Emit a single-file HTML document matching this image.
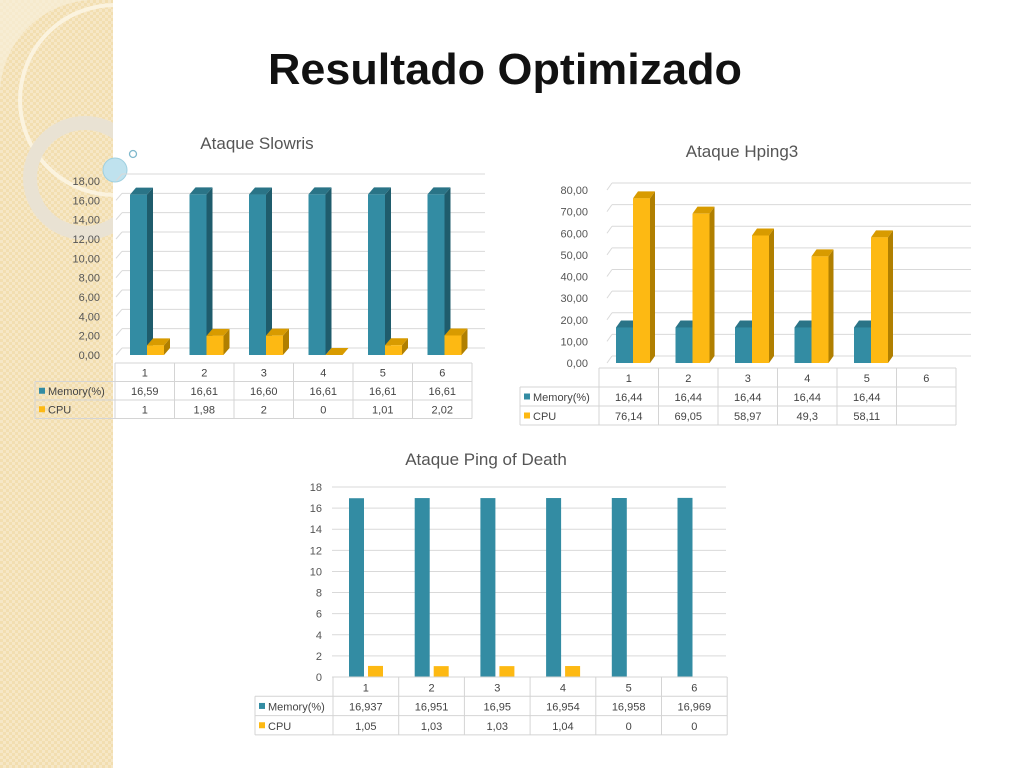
<!DOCTYPE html>
<html><head><meta charset="utf-8"><style>
body{margin:0;width:1024px;height:768px;overflow:hidden;background:#fff;font-family:"Liberation Sans",sans-serif}
svg{position:absolute;left:0;top:0}
</style></head><body>
<svg id="s" width="1024" height="768">
<defs><pattern id="pt" width="6" height="6" patternUnits="userSpaceOnUse"><rect width="6" height="6" fill="#f2deb0"/><rect width="3" height="3" fill="#f6e7c6"/><rect x="3" y="3" width="3" height="3" fill="#f6e7c6"/></pattern></defs>
<rect x="0" y="0" width="113" height="768" fill="url(#pt)"/>
<path d="M0 90 A95 95 0 0 1 90 0 L0 0Z" fill="#f8efda" opacity="0.7"/>
<circle cx="115" cy="100" r="95" fill="none" stroke="#fbf3df" stroke-width="4"/>
<circle cx="85" cy="178" r="55" fill="none" stroke="#e9e2d3" stroke-width="14"/>
<rect x="113" y="0" width="911" height="768" fill="#fff"/>
<circle cx="115" cy="170" r="12" fill="#bfe2ee" stroke="#9fd0e0"/>
<circle cx="133" cy="154" r="3.5" fill="none" stroke="#7fb8cc" stroke-width="1.3"/>
<text x="505" y="84" text-anchor="middle" font-size="44" font-weight="bold" fill="#111" textLength="474" lengthAdjust="spacingAndGlyphs">Resultado Optimizado</text>
<g id="g"></g>
</svg>
<script>
const NS='http://www.w3.org/2000/svg';
const g=document.getElementById('g');
function el(t,a,txt,p){const e=document.createElementNS(NS,t);for(const k in a)e.setAttribute(k,a[k]);if(txt!=null)e.textContent=txt;(p||g).appendChild(e);return e;}
const TEAL='#338ca3',TEALD='#1f5c6c',TEALT='#2a7487',GOLD='#fdb913',GOLDD='#b07f00',GOLDT='#d89b00';

// Chart 1 data
const c1Cats=['1','2','3','4','5','6'];
const c1Mem=[16.59,16.61,16.60,16.61,16.61,16.61];
const c1Cpu=[1,1.98,2,0,1.01,2.02];
const c1MemLbl=['16,59','16,61','16,60','16,61','16,61','16,61'];
const c1CpuLbl=['1','1,98','2','0','1,01','2,02'];
const c1Ticks=[0,2,4,6,8,10,12,14,16,18];
// Chart 2 data
const c2Cats=['1','2','3','4','5','6'];
const c2Mem=[16.44,16.44,16.44,16.44,16.44,null];
const c2Cpu=[76.14,69.05,58.97,49.3,58.11,null];
const c2MemLbl=['16,44','16,44','16,44','16,44','16,44',''];
const c2CpuLbl=['76,14','69,05','58,97','49,3','58,11',''];
const c2Ticks=[0,10,20,30,40,50,60,70,80];
// Chart 3 data
const c3Cats=['1','2','3','4','5','6'];
const c3Mem=[16.937,16.951,16.95,16.954,16.958,16.969];
const c3Cpu=[1.05,1.03,1.03,1.04,0,0];
const c3MemLbl=['16,937','16,951','16,95','16,954','16,958','16,969'];
const c3CpuLbl=['1,05','1,03','1,03','1,04','0','0'];
const c3Ticks=[0,2,4,6,8,10,12,14,16,18];

function fmt(v,dec){return dec?v.toFixed(2).replace('.',','):String(v);}

function chart(o){
  const grp=el('g',{});
  
  
  const t=el('text',{x:o.tx,y:o.ty,'text-anchor':'middle','font-size':17,fill:'#555'},o.title,grp);
  
  
  const max=o.ticks[o.ticks.length-1];
  const yB=v=>o.y0-(v/max)*(o.y0-o.yTop);
  const yF=v=>yB(v)+o.dy;
  o.ticks.forEach(v=>{
    const y=yB(v);
    const l=el('line',{x1:o.gx0,x2:o.gx1,y1:y,y2:y,stroke:'#d9d9d9','stroke-width':1},null,grp);
    
    
    if(o.dy) el('line',{x1:o.gx0-o.dx,x2:o.gx0,y1:y+o.dy,y2:y,stroke:'#d9d9d9'},null,grp);
    const tl=el('text',{x:o.lx,y:y+o.dy+4,'text-anchor':'end','font-size':11,fill:'#555'},fmt(v,o.dec),grp);
    
    
  });
  const bar=(x,v,c,cd,ct,nm)=>{
    if(v==null) return;
    const yt=yF(v),yb=yF(0),w=o.bw;
    if(o.dx){
      el('polygon',{points:`${x+w},${yt} ${x+w+o.dx},${yt-o.dy} ${x+w+o.dx},${yb-o.dy} ${x+w},${yb}`,fill:cd},null,grp);
      el('polygon',{points:`${x},${yt} ${x+o.dx},${yt-o.dy} ${x+w+o.dx},${yt-o.dy} ${x+w},${yt}`,fill:ct},null,grp);
    }
    const r=el('rect',{x:x,y:yt,width:w,height:Math.max(0,yb-yt),fill:c},null,grp);
    
    
  };
  o.cats.forEach((c,i)=>{
    const cx=o.tx0+o.cw*i+o.boff;
    bar(cx,o.mem[i],TEAL,TEALD,TEALT,'bar-memory-'+c);
    bar(cx+o.bw+o.gap,o.cpu[i],GOLD,GOLDD,GOLDT,'bar-cpu-'+c);
  });
  const r0=o.ty0,rh=o.rh,x1=o.tx0+o.cw*6;
  const st={stroke:'#d4d4d4','stroke-width':1,fill:'none'};
  el('line',Object.assign({x1:o.tx0,x2:x1,y1:r0,y2:r0},st),null,grp);
  for(let k=1;k<=3;k++) el('line',Object.assign({x1:o.lgx,x2:x1,y1:r0+rh*k,y2:r0+rh*k},st),null,grp);
  el('line',Object.assign({x1:o.lgx,x2:o.lgx,y1:r0+rh,y2:r0+rh*3},st),null,grp);
  for(let i=0;i<=6;i++) el('line',Object.assign({x1:o.tx0+o.cw*i,x2:o.tx0+o.cw*i,y1:r0,y2:r0+rh*3},st),null,grp);
  o.cats.forEach((c,i)=>{
    const mx=o.tx0+o.cw*(i+.5);
    const a=el('text',{x:mx,y:r0+rh-5,'text-anchor':'middle','font-size':11,fill:'#444'},c,grp);
    
    
    el('text',{x:mx,y:r0+rh*2-5,'text-anchor':'middle','font-size':11,fill:'#444'},o.memL[i],grp);
    el('text',{x:mx,y:r0+rh*3-5,'text-anchor':'middle','font-size':11,fill:'#444'},o.cpuL[i],grp);
  });
  [['Memory(%)',TEAL,'legend-memory'],['CPU',GOLD,'legend-cpu']].forEach((L,k)=>{
    const y=r0+rh*(k+1);
    const sw=el('rect',{x:o.lgx+4,y:y+rh/2-3,width:6,height:6,fill:L[1]},null,grp);
    
    
    el('text',{x:o.lgx+13,y:y+rh-5,'font-size':11,fill:'#444'},L[0],grp);
  });
}
chart({name:'chart-slowris',title:'Ataque Slowris',tx:257,ty:149,cats:c1Cats,mem:c1Mem,cpu:c1Cpu,memL:c1MemLbl,cpuL:c1CpuLbl,ticks:c1Ticks,dec:true,
  y0:348,yTop:174,dy:7,dx:6,gx0:122,gx1:485,lx:100,tx0:115,cw:59.5,boff:15,bw:17,gap:0,ty0:363,rh:18.5,lgx:35});
chart({name:'chart-hping3',title:'Ataque Hping3',tx:742,ty:157,cats:c2Cats,mem:c2Mem,cpu:c2Cpu,memL:c2MemLbl,cpuL:c2CpuLbl,ticks:c2Ticks,dec:true,
  y0:356,yTop:183,dy:7,dx:5,gx0:612,gx1:971,lx:588,tx0:599,cw:59.5,boff:17,bw:17,gap:0,ty0:368,rh:19,lgx:520});
chart({name:'chart-ping-of-death',title:'Ataque Ping of Death',tx:486,ty:465,cats:c3Cats,mem:c3Mem,cpu:c3Cpu,memL:c3MemLbl,cpuL:c3CpuLbl,ticks:c3Ticks,dec:false,
  y0:677,yTop:487,dy:0,dx:0,gx0:332,gx1:726,lx:322,tx0:333,cw:65.7,boff:16,bw:15,gap:4,ty0:677,rh:19.3,lgx:255});
</script>
</body></html>
